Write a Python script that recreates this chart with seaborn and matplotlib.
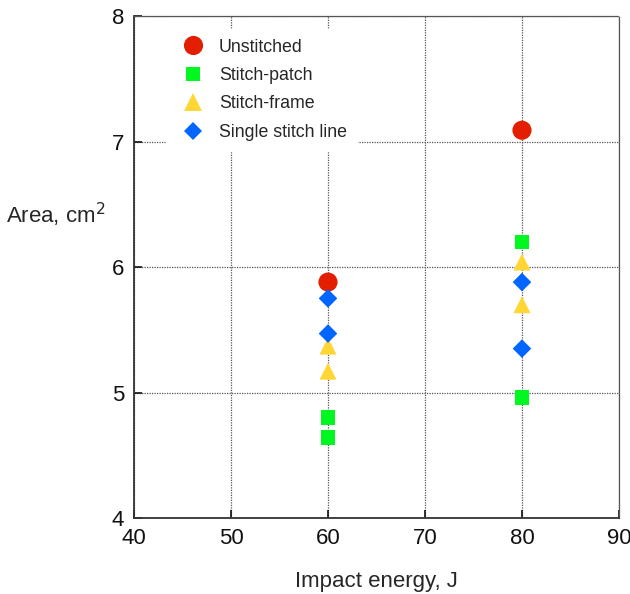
import numpy as np
import pandas as pd
import seaborn as sns
import matplotlib.pyplot as plt

# values
unstitched_x = [60, 80]
unstitched_y = [5.88, 7.09]
patch_x = [60, 60, 80, 80]
patch_y = [4.80, 4.64, 6.20, 4.96]
frame_x = [60, 60, 80, 80]
frame_y = [5.37, 5.17, 6.04, 5.70]
single_x = [60, 60, 80, 80]
single_y = [5.75, 5.47, 5.88, 5.35]

names = ['Unstitched', 'Stitch-patch', 'Stitch-frame', 'Single stitch line']
rows = []
for name, xs, ys in zip(names, [unstitched_x, patch_x, frame_x, single_x],
                        [unstitched_y, patch_y, frame_y, single_y]):
    for x, y in zip(xs, ys):
        rows.append([name, x, y])
df = pd.DataFrame(rows, columns=['series', 'energy', 'area'])

palette = {'Unstitched': '#E41E00', 'Stitch-patch': '#00F820',
           'Stitch-frame': '#FFD633', 'Single stitch line': '#0066FF'}
markers = {'Unstitched': 'o', 'Stitch-patch': 's',
           'Stitch-frame': '^', 'Single stitch line': 'D'}
sizes = {'Unstitched': 190, 'Stitch-patch': 110,
         'Stitch-frame': 150, 'Single stitch line': 90}

sns.set_style('white')
plt.rcParams['font.family'] = ['Liberation Sans', 'DejaVu Sans']

fig = plt.figure(figsize=(6.3, 5.94), dpi=100)
ax = fig.add_axes([0.2127, 0.1279, 0.7698, 0.8451])

sns.scatterplot(data=df, x='energy', y='area', hue='series', style='series',
                size='series', palette=palette, markers=markers, sizes=sizes,
                hue_order=names, style_order=names, size_order=names,
                edgecolor='none', linewidth=0, ax=ax, zorder=3)

ax.set_xlim(40, 90)
ax.set_ylim(4, 8)
ax.set_xticks([40, 50, 60, 70, 80, 90])
ax.set_yticks([4, 5, 6, 7, 8])
ax.grid(True, linestyle=(0, (1, 1)), color='#555555', linewidth=0.9)
ax.set_axisbelow(True)
for side in ['top', 'right']:
    ax.spines[side].set_linestyle((0, (1, 1)))
    ax.spines[side].set_color('#555555')
    ax.spines[side].set_linewidth(0.9)
for side in ['left', 'bottom']:
    ax.spines[side].set_color('#333333')
    ax.spines[side].set_linewidth(1.3)
ax.tick_params(direction='in', length=6, width=1.2, labelsize=16,
               colors='#111111', pad=7, left=True, bottom=True)

ax.set_xlabel('Impact energy, J', fontsize=16, labelpad=16)
ax.set_ylabel('Area, cm$^2$', fontsize=16, rotation=0, ha='center', va='center')
ax.yaxis.set_label_coords(-0.162, 0.604)

handles, labels = ax.get_legend_handles_labels()
leg = ax.legend(handles, labels, loc='upper left', bbox_to_anchor=(0.054, 0.985),
                frameon=True, fontsize=12.8, handletextpad=0.45,
                labelspacing=0.64, borderpad=0.55, borderaxespad=0.3)
leg.get_frame().set_edgecolor('white')
leg.get_frame().set_facecolor('white')
leg.get_frame().set_alpha(1)

fig.savefig('out.png', dpi=100)
